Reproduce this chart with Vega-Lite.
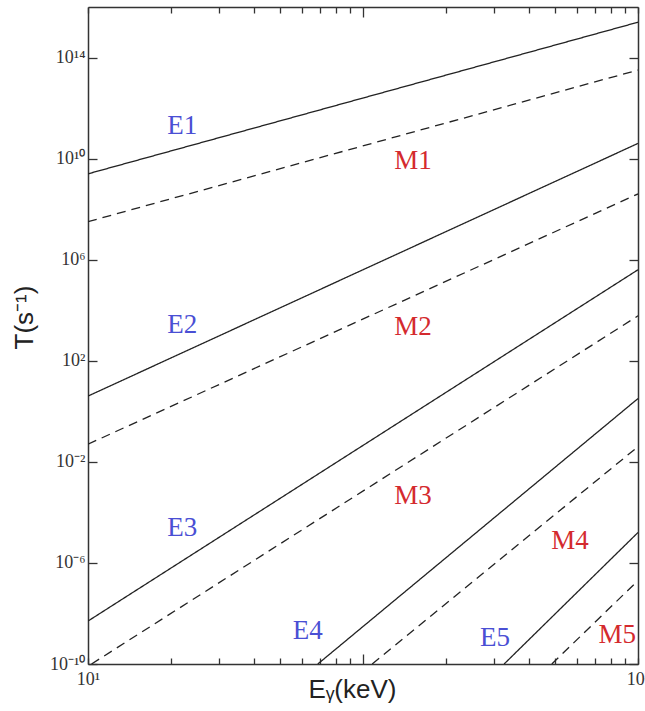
{
  "$schema": "https://vega.github.io/schema/vega-lite/v6.json",
  "width": 550,
  "height": 657,
  "autosize": "none",
  "padding": {"left": 88, "top": 7, "right": 7, "bottom": 47},
  "background": "white",
  "config": {
    "view": {"stroke": null},
    "axis": {
      "grid": false,
      "domainColor": "#333333",
      "domainWidth": 1.5,
      "tickColor": "#333333",
      "tickWidth": 1.3,
      "labelFont": "Liberation Serif",
      "labelFontSize": 18,
      "labelColor": "#333333",
      "titleFont": "Liberation Sans",
      "titleFontWeight": "normal",
      "titleFontSize": 26,
      "titleColor": "#222222"
    }
  },
  "datasets": {
    "lines": [
      {"series": "E1", "style": "solid", "E": 10, "T": 2.5e9},
      {"series": "E1", "style": "solid", "E": 1000, "T": 2.5e15},
      {"series": "M1", "style": "dashed", "E": 10, "T": 3.2e7},
      {"series": "M1", "style": "dashed", "E": 1000, "T": 3.2e13},
      {"series": "E2", "style": "solid", "E": 10, "T": 4},
      {"series": "E2", "style": "solid", "E": 1000, "T": 4e10},
      {"series": "M2", "style": "dashed", "E": 10, "T": 0.05},
      {"series": "M2", "style": "dashed", "E": 1000, "T": 4e8},
      {"series": "E3", "style": "solid", "E": 10, "T": 5e-9},
      {"series": "E3", "style": "solid", "E": 1000, "T": 4e5},
      {"series": "M3", "style": "dashed", "E": 10.3, "T": 1e-10},
      {"series": "M3", "style": "dashed", "E": 1000, "T": 6e3},
      {"series": "E4", "style": "solid", "E": 68.5, "T": 1e-10},
      {"series": "E4", "style": "solid", "E": 1000, "T": 3.2},
      {"series": "M4", "style": "dashed", "E": 108, "T": 1e-10},
      {"series": "M4", "style": "dashed", "E": 1000, "T": 0.04},
      {"series": "E5", "style": "solid", "E": 326, "T": 1e-10},
      {"series": "E5", "style": "solid", "E": 1000, "T": 1.6e-5},
      {"series": "M5", "style": "dashed", "E": 486, "T": 1e-10},
      {"series": "M5", "style": "dashed", "E": 1000, "T": 2e-7}
    ],
    "labels": [
      {"label": "E1", "kind": "E", "E": 22, "T": 2e11},
      {"label": "M1", "kind": "M", "E": 152, "T": 8e9},
      {"label": "E2", "kind": "E", "E": 22, "T": 2.5e3},
      {"label": "M2", "kind": "M", "E": 152, "T": 2.2e3},
      {"label": "E3", "kind": "E", "E": 22, "T": 2.5e-5},
      {"label": "M3", "kind": "M", "E": 152, "T": 4.5e-4},
      {"label": "E4", "kind": "E", "E": 63, "T": 2e-9},
      {"label": "M4", "kind": "M", "E": 566, "T": 7.4e-6},
      {"label": "E5", "kind": "E", "E": 302, "T": 1.1e-9},
      {"label": "M5", "kind": "M", "E": 840, "T": 1.4e-9}
    ]
  },
  "layer": [
    {
      "data": {"name": "lines"},
      "mark": {"type": "line", "color": "#222222", "strokeWidth": 1.3, "clip": true},
      "encoding": {
        "x": {
          "field": "E", "type": "quantitative",
          "scale": {"type": "log", "domain": [10, 1000], "nice": false},
          "axis": {
            "orient": "bottom",
            "title": "Eᵧ(keV)",
            "titleX": 264,
            "titleY": 12,
            "titleBaseline": "top",
            "values": [10, 20, 30, 40, 50, 60, 70, 80, 90, 100, 200, 300, 400, 500, 600, 700, 800, 900, 1000],
            "labelExpr": "datum.value == 10 ? '10¹' : (datum.value == 1000 ? '10³' : '')",
            "labelPadding": 12,
            "labelFlush": false,
            "labelOverlap": false,
            "tickSize": {"condition": {"test": "datum.value == 100", "value": -10}, "value": -6}
          }
        },
        "y": {
          "field": "T", "type": "quantitative",
          "scale": {"type": "log", "domain": [1e-10, 1e16], "nice": false},
          "axis": {
            "orient": "left",
            "title": "T(s⁻¹)",
            "titleX": -51,
            "titleY": 310,
            "values": [1e-10, 1e-6, 0.01, 100, 1e6, 1e10, 1e14],
            "labelExpr": "'10' + (round(log(datum.value)/LN10) == 14 ? '¹⁴' : round(log(datum.value)/LN10) == 10 ? '¹⁰' : round(log(datum.value)/LN10) == 6 ? '⁶' : round(log(datum.value)/LN10) == 2 ? '²' : round(log(datum.value)/LN10) == -2 ? '⁻²' : round(log(datum.value)/LN10) == -6 ? '⁻⁶' : '⁻¹⁰')",
            "labelPadding": 12,
            "labelFlush": false,
            "labelOverlap": false,
            "tickSize": -9
          }
        },
        "detail": {"field": "series"},
        "strokeDash": {
          "field": "style", "type": "nominal",
          "scale": {"domain": ["solid", "dashed"], "range": [[1, 0], [9, 6]]},
          "legend": null
        }
      }
    },
    {
      "data": {"name": "labels"},
      "mark": {"type": "text", "font": "Liberation Serif", "fontSize": 27},
      "encoding": {
        "x": {
          "field": "E", "type": "quantitative",
          "scale": {"type": "log", "domain": [10, 1000], "nice": false},
          "axis": {
            "orient": "top",
            "title": null,
            "labels": false,
            "values": [10, 20, 30, 40, 50, 60, 70, 80, 90, 100, 200, 300, 400, 500, 600, 700, 800, 900, 1000],
            "tickSize": {"condition": {"test": "datum.value == 100", "value": -10}, "value": -6}
          }
        },
        "y": {
          "field": "T", "type": "quantitative",
          "scale": {"type": "log", "domain": [1e-10, 1e16], "nice": false},
          "axis": {
            "orient": "right",
            "title": null,
            "labels": false,
            "values": [1e-10, 1e-6, 0.01, 100, 1e6, 1e10, 1e14],
            "tickSize": -9
          }
        },
        "text": {"field": "label"},
        "color": {
          "field": "kind", "type": "nominal",
          "scale": {"domain": ["E", "M"], "range": ["#4a4fd4", "#d42a2e"]},
          "legend": null
        }
      }
    }
  ],
  "resolve": {"axis": {"x": "independent", "y": "independent"}}
}
